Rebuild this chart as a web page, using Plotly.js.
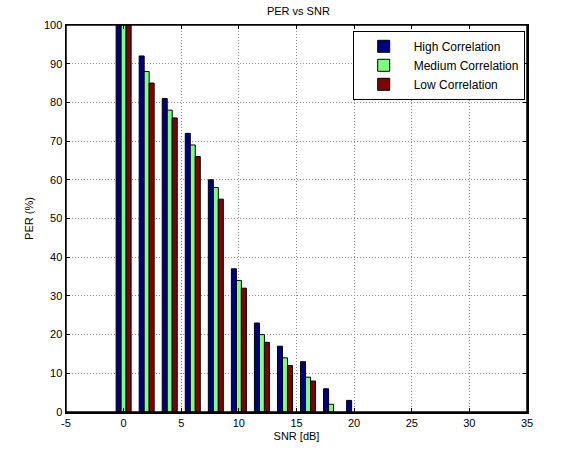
<!DOCTYPE html>
<html>
<head>
<meta charset="utf-8">
<script src="https://cdn.plot.ly/plotly-3.0.1.min.js"></script>
<style>html,body{margin:0;padding:0;background:#fff;}#chart{width:563px;height:457px;}</style>
</head>
<body>
<div id="chart"></div>
<script>
const snr = [0, 2, 4, 6, 8, 10, 12, 14, 16, 18, 20];
const highCorr = [100, 92, 81, 72, 60, 37, 23, 17, 13, 6, 3];
const mediumCorr = [100, 88, 78, 69, 58, 34, 20, 14, 9, 2, 0];
const lowCorr = [100, 85, 76, 66, 55, 32, 18, 12, 8, 0, 0];
const seriesNames = ['High Correlation', 'Medium Correlation', 'Low Correlation'];
const xTicks = [-5, 0, 5, 10, 15, 20, 25, 30, 35];
const yTicks = [0, 10, 20, 30, 40, 50, 60, 70, 80, 90, 100];

const colors = ['#00007f', '#7fff7f', '#7f0000'];
const vals = [highCorr, mediumCorr, lowCorr];
const traces = vals.map((v, i) => ({
  type: 'bar', x: snr, y: v, name: seriesNames[i],
  marker: {color: colors[i], line: {color: '#000', width: v.map(d => d > 0 ? 1 : 0)}}
}));
const font = {family: 'Liberation Sans, Arial, sans-serif', size: 11, color: '#000'};
const axisCommon = {
  showline: true, linecolor: '#000', linewidth: 1.5, mirror: 'allticks',
  ticks: 'inside', ticklen: 4, tickcolor: '#000',
  showgrid: true, gridcolor: '#8c8c8c', griddash: '1px,2px', gridwidth: 1,
  zeroline: false, tickfont: font, layer: 'above traces'
};
const layout = {
  width: 563, height: 457,
  margin: {l: 66, r: 36, t: 25, b: 45},
  paper_bgcolor: '#fff', plot_bgcolor: '#fff',
  font: font,
  title: {text: 'PER vs SNR', font: font, x: 0.53, xanchor: 'center', y: 0.975, yanchor: 'middle'},
  barmode: 'group', bargap: 0.35, bargroupgap: 0,
  xaxis: Object.assign({}, axisCommon, {range: [-5, 35], tickvals: xTicks, ticktext: xTicks.map(String),
    title: {text: 'SNR [dB]', font: font, standoff: 4}}),
  yaxis: Object.assign({}, axisCommon, {range: [0, 100], tickvals: yTicks, ticktext: yTicks.map(String),
    title: {text: 'PER (%)', font: font, standoff: 8}}),
  legend: {x: 0.995, xanchor: 'right', y: 0.985, yanchor: 'top', bordercolor: '#000', borderwidth: 1,
    bgcolor: '#fff', font: Object.assign({}, font, {size: 12}), tracegroupgap: 0, itemwidth: 50},
  shapes: [{type: 'rect', xref: 'paper', yref: 'paper', x0: 0, x1: 1, y0: 0, y1: 1,
    line: {color: '#000', width: 1.5}, fillcolor: 'rgba(0,0,0,0)', layer: 'above'}],
  showlegend: true
};
Plotly.newPlot('chart', traces, layout, {staticPlot: true, displayModeBar: false});
</script>
</body>
</html>
